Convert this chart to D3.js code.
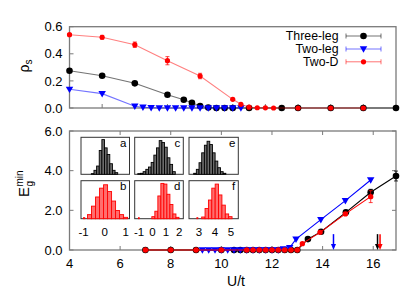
<!DOCTYPE html>
<html><head><meta charset="utf-8">
<script src="https://cdn.jsdelivr.net/npm/d3@7"></script>
<style>html,body{margin:0;padding:0;background:#fff;} svg{display:block;font-family:'Liberation Sans',Arial,Helvetica,sans-serif;}</style>
</head><body><svg id="c" width="415" height="291"></svg>
<script>
// ---------- Top panel (rho_s) ----------
const topThreeX = [0,1,2,3,3.5,3.75,4,4.25,4.5,4.75,5,5.5,6.5,7,8,9,10];
const topThreeY = [0.275,0.238,0.182,0.098,0.061,0.039,0.015,0.004,0,0,0,0,0,0,0,0,0];
const topTwoLegX = [0,1,2,2.25,2.5,2.75,3,3.25,3.5,3.75,4,4.25,4.5,4.75,5,5.25];
const topTwoLegY = [0.138,0.106,0.013,0.006,0.002,0.001,0,0,0,0,0,0,0,0,0,0];
const topTwoDX = [0,1,2,3,4,5,5.25,5.5,5.75,6,6.25,7,8,9];
const topTwoDY = [0.541,0.522,0.467,0.349,0.236,0.064,0.027,0.006,0.002,0.001,0,0,0,0];
const topTwoDErr = [0.008,0.014,0.02,0.03,0.02,0.008,0.006,0.004,0.003,0.003,0.002,0,0,0];
const topYTicks = [0.0,0.2,0.4,0.6];
const topXTicks = [1,2,3,4,5,6,7,8,9];

// ---------- Bottom panel (E_g^min vs U/t) ----------
const botThreeX = [7,8,9,10,10.5,10.75,11,11.25,11.5,11.75,12,12.25,12.5,12.75,13,13.42,13.94,14.92,15.9,16.9];
const botThreeY = [0,0,0,0,0,0,0,0,0,0,0,0,0,0,0,0.55,0.92,1.9,2.91,3.73];
const botThreeErr = [0,0,0,0,0,0,0,0,0,0,0,0,0,0,0,0.04,0.05,0.1,0.15,0.25];
const botTwoLegX = [9.25,9.5,9.75,10,10.25,10.5,10.75,11,11.25,11.5,11.75,12,12.25,12.45,12.7,12.95,13.93,14.9,15.9];
const botTwoLegY = [0,0,0,0,0,0,0,0,0,0,0,0,0,0.05,0.12,0.55,1.53,2.49,3.53];
const botTwoDX = [7,8,9,10,11,11.25,11.5,11.75,12,12.25,12.5,12.75,13,13.2,13.9,14.9,15.9];
const botTwoDY = [0,0,0,0,0,0,0,0,0,0,0,0,0,0.32,0.89,1.82,2.69];
const botTwoDErr = [0,0,0,0,0,0,0,0,0,0,0,0,0,0.04,0.05,0.08,0.3];
const botXTicks = [4,6,8,10,12,14,16];
const botYTicks = [0,2,4,6];
const arrowX = [14.43,16.17,16.27];
const arrowColors = ["#0000ff","#000000","#ff0000"];

// ---------- Inset histograms ----------
const insetLetters = ["a","b","c","d","e","f"];
const insetDomains = [[-1.12,1.18],[-1.33,2.3],[2.38,5.45]];
const insetTicks = [[-1,0,1],[-1,0,1,2],[3,4,5]];
const histStart = [-0.63,-0.81,-1.1,-0.05,2.67,3.17];
const histWidth = [0.125,0.19,0.2,0.225,0.167,0.21];
const histA = [2,12,25,72,105,80,60,32,12,5];
const histB = [12,37,64,90,100,80,52,24,12,4];
const histC = [2,3,8,15,22,36,58,80,102,96,82,50,30,8];
const histD = [6,22,67,104,102,72,42,14,4];
const histE = [3,15,35,65,88,100,90,65,40,20,8,3];
const histF = [5,30,55,90,102,70,40,14,6];
const histOutlier = [null,-1.0,null,-1.05,null,2.87];

const legendNames = ["Three-leg","Two-leg","Two-D"];
const colors = ["#000000","#0000ff","#ff0000"];

const svg = d3.select("#c");
const frameColor = "#7a7a7a";
const L = 69.5, R = 396;

// ===== Top panel =====
const xT = d3.scaleLinear().domain([0,10]).range([L,R]);
const yT = d3.scaleLinear().domain([0,0.6]).range([108,26.7]);
const gT = svg.append("g");
gT.selectAll(".ytk").data(topYTicks).join("line")
  .attr("x1",L).attr("x2",L+4).attr("y1",d=>yT(d)).attr("y2",d=>yT(d)).attr("stroke",frameColor);
gT.selectAll(".xtk").data(topXTicks).join("line")
  .attr("x1",d=>xT(d)).attr("x2",d=>xT(d)).attr("y1",108).attr("y2",104).attr("stroke",frameColor);
gT.selectAll(".ylab").data(topYTicks).join("text")
  .attr("x",62.5).attr("y",d=>yT(d)+4.6).attr("text-anchor","end").attr("font-size",13)
  .text(d=>d3.format(".1f")(d));
gT.append("rect").attr("x",L).attr("y",yT(0.6)).attr("width",R-L).attr("height",yT(0)-yT(0.6))
  .attr("fill","none").attr("stroke",frameColor).attr("stroke-width",1.3);
const rl = gT.append("text").attr("transform","translate(29,66) rotate(-90)").attr("text-anchor","middle").attr("font-size",14);
rl.append("tspan").text("ρ");
rl.append("tspan").attr("font-size",10).attr("dy",3).text("s");

function drawSeries(g, xs, ys, xS, yS, color, kind, opacity, r, errs){
  const pts = xs.map((x,i)=>[x, ys[i], errs? errs[i]:0]);
  g.append("path").datum(pts).attr("fill","none").attr("stroke",color).attr("stroke-opacity",opacity)
    .attr("stroke-width",1.1).attr("d",d3.line().x(d=>xS(d[0])).y(d=>yS(d[1])));
  if (errs) {
    const eg = g.append("g").attr("stroke",color).attr("stroke-width",1).attr("stroke-opacity",0.75);
    pts.filter(d=>d[2]>0).forEach(d=>{
      const x = xS(d[0]), y1 = yS(d[1]-d[2]), y2 = yS(d[1]+d[2]);
      eg.append("line").attr("x1",x).attr("x2",x).attr("y1",y1).attr("y2",y2);
      eg.append("line").attr("x1",x-2).attr("x2",x+2).attr("y1",y1).attr("y2",y1);
      eg.append("line").attr("x1",x-2).attr("x2",x+2).attr("y1",y2).attr("y2",y2);
    });
  }
  if (kind === "tri") {
    g.selectAll(null).data(pts).join("path")
      .attr("d", d3.symbol().type(d3.symbolTriangle).size(24))
      .attr("transform", d=>`translate(${xS(d[0])},${yS(d[1])-0.5}) rotate(180)`).attr("fill",color);
  } else {
    g.selectAll(null).data(pts).join("circle")
      .attr("cx",d=>xS(d[0])).attr("cy",d=>yS(d[1])).attr("r",r).attr("fill",color);
  }
}
drawSeries(gT, topThreeX, topThreeY, xT, yT, colors[0], "circle", 0.55, 3.3, null);
drawSeries(gT, topTwoLegX, topTwoLegY, xT, yT, colors[1], "tri", 0.55, 0, null);
drawSeries(gT, topTwoDX, topTwoDY, xT, yT, colors[2], "circle", 0.5, 2.6, topTwoDErr);

// legend
const legY = [36, 49, 61.8];
legendNames.forEach((name,i)=>{
  const y = legY[i];
  gT.append("text").attr("x",338.5).attr("y",y+4.3).attr("text-anchor","end").attr("font-size",12.3).text(name);
  const lg = gT.append("g").attr("stroke",colors[i]).attr("stroke-opacity",0.55).attr("stroke-width",1);
  lg.append("line").attr("x1",346).attr("x2",381).attr("y1",y).attr("y2",y);
  lg.append("line").attr("x1",346).attr("x2",346).attr("y1",y-2.5).attr("y2",y+2.5);
  lg.append("line").attr("x1",381).attr("x2",381).attr("y1",y-2.5).attr("y2",y+2.5);
  if (i===1) {
    gT.append("path").attr("d", d3.symbol().type(d3.symbolTriangle).size(24))
      .attr("transform",`translate(363.5,${y-0.5}) rotate(180)`).attr("fill",colors[i]);
  } else {
    gT.append("circle").attr("cx",363.5).attr("cy",y).attr("r",i===0?3.3:2.6).attr("fill",colors[i]);
  }
});

// ===== Bottom panel =====
const xB = d3.scaleLinear().domain([4,16.9]).range([L,R]);
const yB = d3.scaleLinear().domain([0,6]).range([250,131]);
const gB = svg.append("g");
gB.selectAll(".bxt").data(botXTicks).join("g").each(function(d){
  const g = d3.select(this);
  g.append("line").attr("x1",xB(d)).attr("x2",xB(d)).attr("y1",250).attr("y2",246).attr("stroke",frameColor);
  g.append("line").attr("x1",xB(d)).attr("x2",xB(d)).attr("y1",131).attr("y2",135).attr("stroke",frameColor);
  g.append("text").attr("x",xB(d)).attr("y",267.5).attr("text-anchor","middle").attr("font-size",13).text(d);
});
gB.selectAll(".byt").data(botYTicks).join("g").each(function(d){
  const g = d3.select(this);
  g.append("line").attr("x1",L).attr("x2",L+4).attr("y1",yB(d)).attr("y2",yB(d)).attr("stroke",frameColor);
  g.append("line").attr("x1",R).attr("x2",R-4).attr("y1",yB(d)).attr("y2",yB(d)).attr("stroke",frameColor);
  g.append("text").attr("x",62.5).attr("y",yB(d)+4.6).attr("text-anchor","end").attr("font-size",13).text(d3.format(".1f")(d));
});
gB.append("rect").attr("x",L).attr("y",131).attr("width",R-L).attr("height",119)
  .attr("fill","none").attr("stroke",frameColor).attr("stroke-width",1.3);
gB.append("text").attr("x",236).attr("y",286).attr("text-anchor","middle").attr("font-size",14).text("U/t");
const el = gB.append("g").attr("transform","translate(29,190) rotate(-90)");
el.append("text").attr("x",-7).attr("y",0).attr("font-size",15).text("E");
el.append("text").attr("x",3.5).attr("y",3.5).attr("font-size",10).text("g");
el.append("text").attr("x",3.5).attr("y",-6).attr("font-size",10).text("min");

drawSeries(gB, botThreeX, botThreeY, xB, yB, colors[0], "circle", 1, 3.3, botThreeErr);
drawSeries(gB, botTwoLegX, botTwoLegY, xB, yB, colors[1], "tri", 1, 0, null);
drawSeries(gB, botTwoDX, botTwoDY, xB, yB, colors[2], "circle", 1, 2.7, botTwoDErr);

arrowX.forEach((ax,i)=>{
  const x = xB(ax);
  gB.append("line").attr("x1",x).attr("x2",x).attr("y1",yB(0.8)).attr("y2",yB(0)-4)
    .attr("stroke",arrowColors[i]).attr("stroke-width",1.5);
  gB.append("path").attr("d",`M${x-2.5},${yB(0)-6} L${x+2.5},${yB(0)-6} L${x},${yB(0)} Z`).attr("fill",arrowColors[i]);
});

// ===== Insets =====
const hists = [histA,histB,histC,histD,histE,histF];
const colX = [[81,129.5],[134.7,183.3],[189,238.3]];
const rowY = [[137.3,174.3],[180.7,218.7]];
hists.forEach((h,i)=>{
  const col = Math.floor(i/2), row = i%2;
  const [x0,x1] = colX[col], [y0,y1] = rowY[row];
  const xs = d3.scaleLinear().domain(insetDomains[col]).range([x0,x1]);
  const ys = d3.scaleLinear().domain([0,112]).range([y1,y0]);
  const g = svg.append("g");
  g.append("rect").attr("x",x0).attr("y",y0).attr("width",x1-x0).attr("height",y1-y0)
    .attr("fill","#fff").attr("stroke","#333").attr("stroke-width",1);
  const fill = row===0 ? "#6a6a6a" : "#ff6e6e";
  const stroke = row===0 ? "#000" : "#ff0000";
  const bars = h.map((v,k)=>({x:histStart[i]+k*histWidth[i], v}));
  if (histOutlier[i] !== null) bars.push({x:histOutlier[i], v:3, w:0.06});
  g.selectAll(null).data(bars).join("rect")
    .attr("x",d=>xs(d.x)).attr("width",d=>xs(d.x+(d.w||histWidth[i]))-xs(d.x))
    .attr("y",d=>ys(d.v)).attr("height",d=>ys(0)-ys(d.v))
    .attr("fill",fill).attr("stroke",stroke).attr("stroke-width",0.9);
  g.append("text").attr("x",x1-3).attr("y",y0+9.5).attr("text-anchor","end").attr("font-size",11.5).text(insetLetters[i]);
  if (row===1) {
    g.selectAll(null).data(insetTicks[col]).join("text")
      .attr("x",d=>xs(d)).attr("y",236).attr("text-anchor","middle").attr("font-size",11.5).text(d=>d);
  }
});
</script></body></html>
